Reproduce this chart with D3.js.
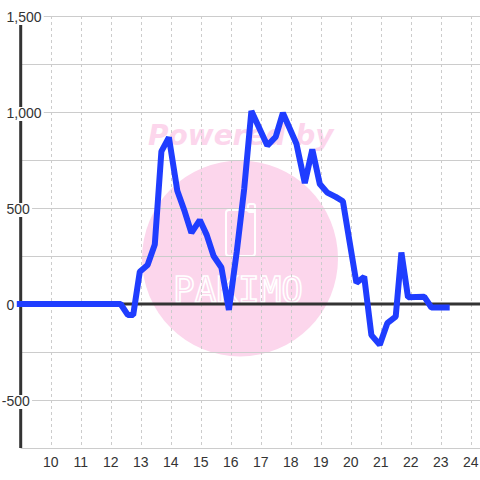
<!DOCTYPE html>
<html>
<head>
<meta charset="utf-8">
<script src="https://cdn.jsdelivr.net/npm/d3@7"></script>
<style>
html,body{margin:0;padding:0;background:#fff;}
svg{display:block;}
</style>
</head>
<body>
<svg id="chart" width="480" height="480"></svg>
<script>
// ---- data (decimal hours, value) ----
const hours = [8.87, 12.33, 12.57, 12.75, 12.97, 13.23, 13.47, 13.69, 13.94, 14.22, 14.47, 14.69, 14.97, 15.2, 15.43, 15.69, 15.94, 16.2, 16.45, 16.69, 17.22, 17.5, 17.74, 18.19, 18.47, 18.72, 18.97, 19.22, 19.5, 19.74, 19.97, 20.19, 20.45, 20.69, 20.97, 21.22, 21.5, 21.69, 21.91, 22.45, 22.69, 23.3];
const values = [0, 0, -57, -57, 168, 203, 310, 795, 868, 590, 480, 370, 437, 360, 250, 190, -31, 270, 600, 1005, 825, 870, 995, 835, 630, 805, 625, 580, 558, 535, 318, 110, 142, -162, -212, -100, -66, 268, 35, 38, -18, -18];
const xTickValues = [10, 11, 12, 13, 14, 15, 16, 17, 18, 19, 20, 21, 22, 23, 24];
const xTickLabels = ["10", "11", "12", "13", "14", "15", "16", "17", "18", "19", "20", "21", "22", "23", "24"];
const yTickValues = [-500, 0, 500, 1000, 1500];
const yTickLabels = ["-500", "0", "500", "1,000", "1,500"];
const yGridValues = [-750, -500, -250, 0, 250, 500, 750, 1000, 1250, 1500];
const watermarkTop = "Powered by";
const watermarkBrand = "PAKIMO";

const svg = d3.select("#chart");
const W = 480, H = 480;
const x = d3.scaleLinear().domain([9, 24.31]).range([20.7, 480]);
const y = d3.scaleLinear().domain([-750, 1500]).range([448, 16]);
const axisX = x(9);

svg.append("rect").attr("width", W).attr("height", H).attr("fill", "#fff");

// watermark
const wm = svg.append("g");
wm.append("circle").attr("cx", 240).attr("cy", 258.5).attr("r", 98).attr("fill", "#fcd6ec");
wm.append("text").attr("x", 148).attr("y", 145)
  .attr("font-family", "DejaVu Sans").attr("font-weight", "bold").attr("font-style", "italic")
  .attr("font-size", 28).attr("fill", "#fcd6ec").text(watermarkTop);
wm.append("rect").attr("x", 226).attr("y", 210).attr("width", 29).attr("height", 46).attr("rx", 3)
  .attr("fill", "none").attr("stroke", "#fff").attr("stroke-width", 2);
wm.append("rect").attr("x", 248).attr("y", 204).attr("width", 7).attr("height", 8).attr("rx", 2)
  .attr("fill", "none").attr("stroke", "#fff").attr("stroke-width", 2);
wm.append("text").attr("x", 173).attr("y", 302)
  .attr("font-family", "DejaVu Sans Mono").attr("font-size", 36)
  .attr("fill", "none").attr("stroke", "#fff").attr("stroke-width", 1.6).text(watermarkBrand);

// horizontal grid
svg.append("g").selectAll("line").data(yGridValues).join("line")
  .attr("x1", axisX).attr("x2", W)
  .attr("y1", d => y(d) + 0.5).attr("y2", d => y(d) + 0.5)
  .attr("stroke", "#cccccc").attr("stroke-width", 1);

// vertical dashed grid
svg.append("g").selectAll("line").data(xTickValues).join("line")
  .attr("x1", d => Math.round(x(d)) + 0.5).attr("x2", d => Math.round(x(d)) + 0.5)
  .attr("y1", y(1500)).attr("y2", y(-750))
  .attr("stroke", "#cccccc").attr("stroke-width", 1).attr("stroke-dasharray", "3,3");

// zero line
svg.append("line").attr("x1", axisX).attr("x2", W).attr("y1", y(0)).attr("y2", y(0))
  .attr("stroke", "#333").attr("stroke-width", 3);

// y axis line
svg.append("line").attr("x1", axisX).attr("x2", axisX).attr("y1", y(1500)).attr("y2", y(-750))
  .attr("stroke", "#333").attr("stroke-width", 3);

// y tick labels with white boxes
const yl = svg.append("g");
const tmp = yl.append("text").attr("font-family", "Liberation Sans, Arial").attr("font-size", 14).text("-");
const minusW = tmp.node().getComputedTextLength();
tmp.remove();
yTickValues.forEach((v, i) => {
  const lab = yTickLabels[i];
  const g = yl.append("g");
  const t = g.append("text")
    .attr("x", lab.startsWith("-") ? 6.5 - minusW : 6.5)
    .attr("y", y(v) + 5.5)
    .attr("font-family", "Liberation Sans, Arial").attr("font-size", 14)
    .attr("fill", "#333").text(lab);
  const bb = t.node().getBBox();
  g.insert("rect", "text").attr("x", bb.x - 1).attr("y", y(v) - 5)
    .attr("width", bb.width + 3).attr("height", 14).attr("fill", "#fff");
});

// x tick labels
svg.append("g").selectAll("text").data(xTickValues).join("text")
  .attr("x", d => x(d)).attr("y", 467)
  .attr("text-anchor", "middle")
  .attr("font-family", "Liberation Sans, Arial").attr("font-size", 14)
  .attr("fill", "#333").text((d, i) => xTickLabels[i]);

// data line
const pts = hours.map((h, i) => [h, values[i]]);
svg.append("path").datum(pts)
  .attr("d", d3.line().x(d => x(d[0])).y(d => y(d[1])))
  .attr("fill", "none").attr("stroke", "#1f3dff").attr("stroke-width", 6)
  .attr("stroke-linejoin", "bevel");
</script>
</body>
</html>
